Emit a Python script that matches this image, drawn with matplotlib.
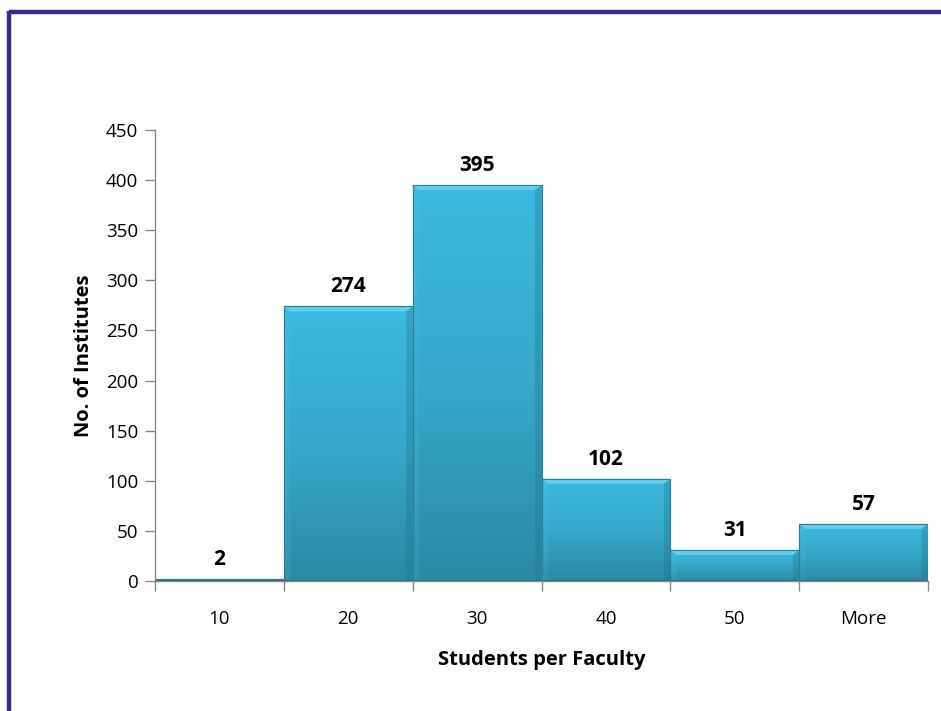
import numpy as np
import matplotlib
matplotlib.use("Agg")
import matplotlib.pyplot as plt
from matplotlib.lines import Line2D
from matplotlib.colors import LinearSegmentedColormap

categories = ["10", "20", "30", "40", "50", "More"]
values = [2, 274, 395, 102, 31, 57]
yticks = [0, 50, 100, 150, 200, 250, 300, 350, 400, 450]

plt.rcParams['font.family'] = ['Open Sans', 'DejaVu Sans']

fig = plt.figure(figsize=(9.41, 7.11), dpi=100)
ax = fig.add_axes([155/941, 1-581/711, (928-155)/941, (581-130)/711])

x = np.arange(len(categories))
bars = ax.bar(x, values, width=1.0, align='edge', color='#36a7c9',
              edgecolor='#2a7f97', linewidth=0.8, zorder=2)

cmap = LinearSegmentedColormap.from_list('g', ['#2c8aa3', '#36a8ca', '#3cbae0'])
grad = np.linspace(0, 1, 256).reshape(-1, 1)
for b, v in zip(bars, values):
    x0 = b.get_x(); w = b.get_width()
    im = ax.imshow(grad, extent=[x0, x0 + w, 0, v], origin='lower', cmap=cmap,
                   aspect='auto', zorder=2.1, interpolation='bicubic')
    im.set_clip_path(b)
    # bevel highlights
    dx = 0.05 * w
    dy = min(5.0, v * 0.3)
    ax.fill([x0, x0 + w, x0 + w - dx, x0 + dx], [v, v, v - dy, v - dy],
            color='#72d6f2', alpha=0.75, zorder=2.2, lw=0)
    ax.fill([x0 + w, x0 + w, x0 + w - dx, x0 + w - dx], [0, v, v - dy, 0],
            color='#1f6f85', alpha=0.3, zorder=2.2, lw=0)
    ax.fill([x0, x0, x0 + dx, x0 + dx], [0, v, v - dy, 0],
            color='#5cc8e6', alpha=0.15, zorder=2.2, lw=0)
    ax.plot([x0, x0 + w], [0, 0], color='#22687c', lw=1.5, zorder=2.3)
    ax.plot([x0, x0, x0 + w, x0 + w], [0, v, v, 0], color='#2a7f97', lw=0.8, zorder=2.3)
    ax.text(x0 + w / 2, v + 9, str(v), ha='center', va='bottom',
            fontsize=15, fontweight='bold', color='black', zorder=3)

ax.set_xlim(0, len(categories))
ax.set_ylim(0, 450)
ax.set_yticks(yticks)
ax.set_yticklabels([str(t) for t in yticks])
ax.set_xticks(np.arange(len(categories) + 1))
ax.set_xticklabels([])
ax.set_xticks(x + 0.5, minor=True)
ax.set_xticklabels(categories, minor=True)
ax.tick_params(axis='x', which='minor', length=0, pad=21, labelsize=13.5)
ax.tick_params(axis='x', which='major', length=7, color='#868686', width=1)
ax.tick_params(axis='y', length=7, color='#868686', width=1, labelsize=13.5, pad=5)

for s in ['top', 'right']:
    ax.spines[s].set_visible(False)
for s in ['left', 'bottom']:
    ax.spines[s].set_color('#868686')
    ax.spines[s].set_linewidth(1)

ax.set_xlabel('Students per Faculty', fontsize=14.5, fontweight='bold', labelpad=16)
ax.set_ylabel('No. of Institutes', fontsize=14.5, fontweight='bold', labelpad=9)

# frame
fig.add_artist(Line2D([9/941, 1], [1-12/711, 1-12/711], transform=fig.transFigure,
                      color='#3b2a8e', lw=3.2, solid_capstyle='butt'))
fig.add_artist(Line2D([9/941, 9/941], [0, 1-10.5/711], transform=fig.transFigure,
                      color='#3b2a8e', lw=3.2, solid_capstyle='butt'))

fig.savefig('out.png', dpi=100)
